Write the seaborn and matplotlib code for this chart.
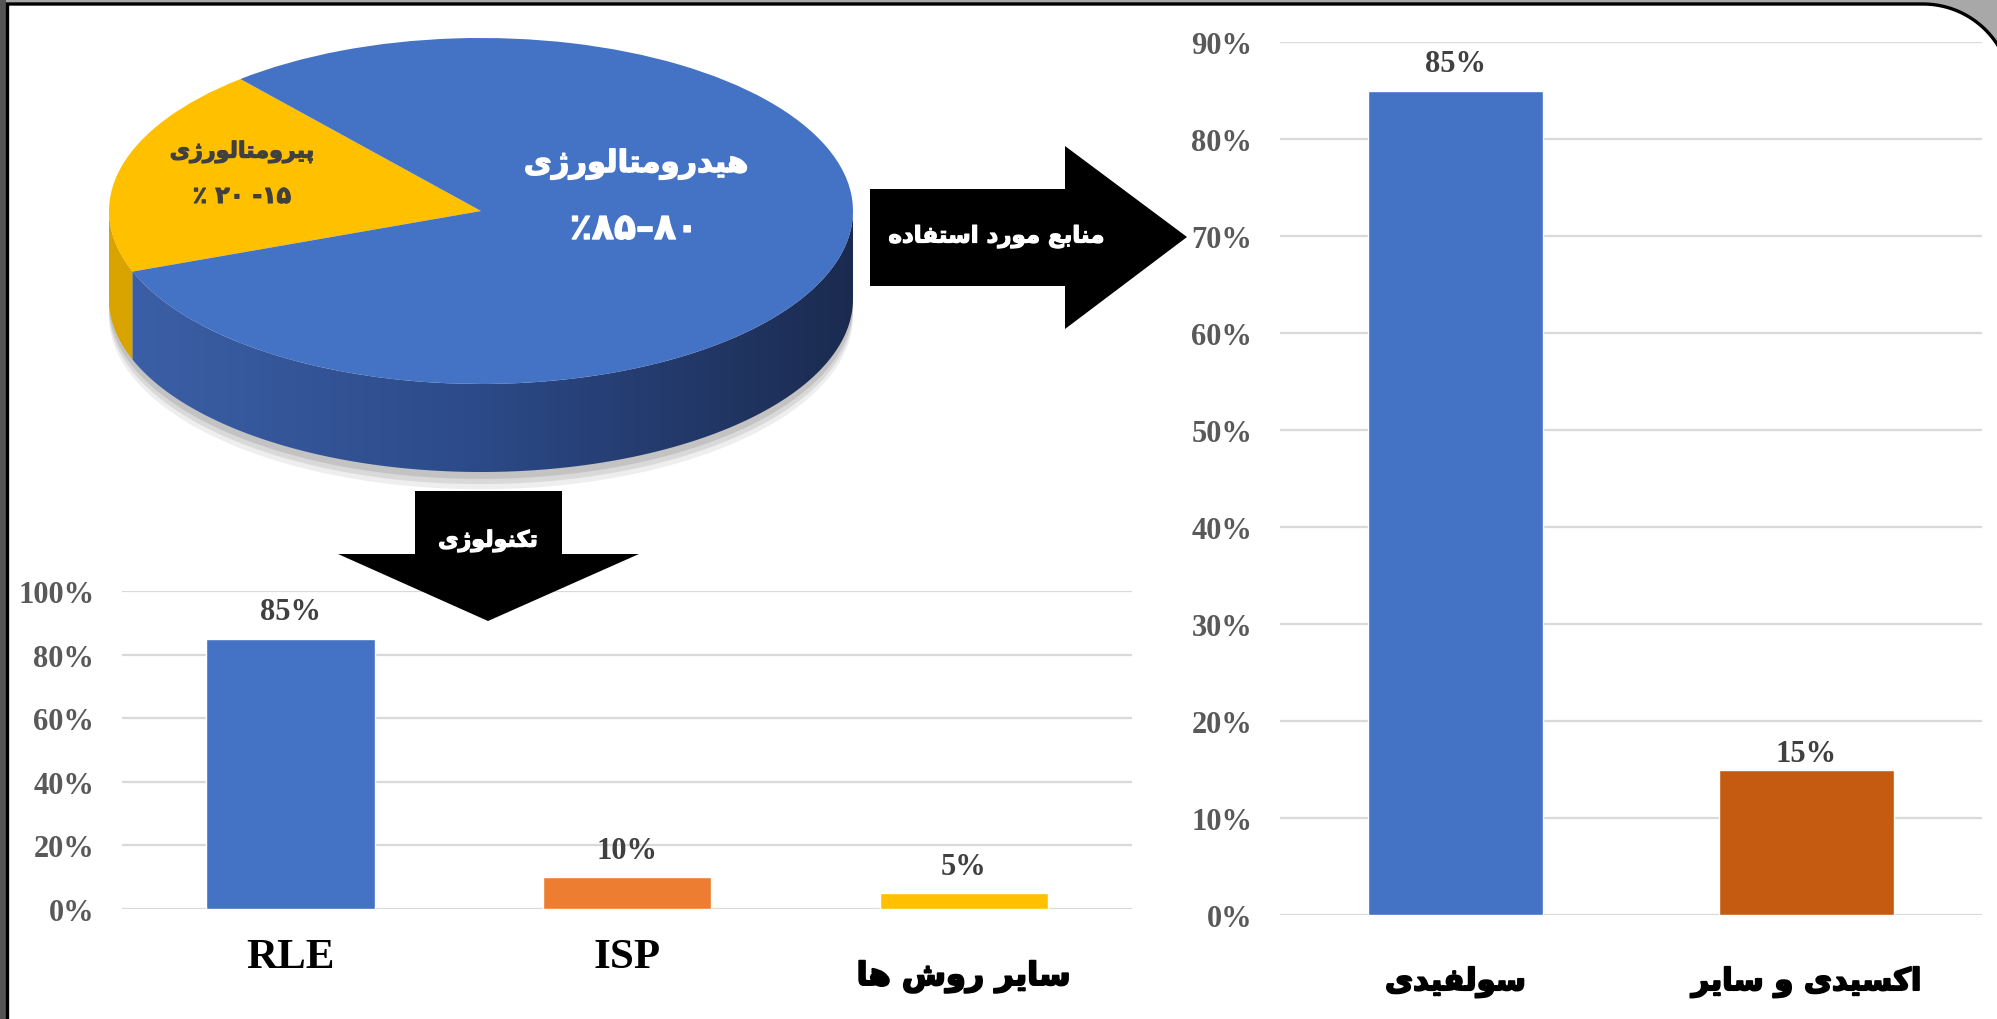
import re
import numpy as np
import pandas as pd
import seaborn as sns
import matplotlib.pyplot as plt
import matplotlib.patheffects as pe
from matplotlib.patches import Polygon, Rectangle
from matplotlib.colors import LinearSegmentedColormap
from matplotlib.ticker import PercentFormatter

# ---- data ----
pie_labels = ['پیرومتالورژی', 'هیدرومتالورژی']
pie_ranges = ['۱۵- ۲۰ ٪', '۸۰–۸۵٪']
pie_values = [19.5, 80.5]
pie_colors = ['#FFC000', '#4472C4']

tech_labels = ['RLE', 'ISP', 'سایر روش ها']
tech_values = [0.85, 0.10, 0.05]
tech_colors = ['#4472C4', '#ED7D31', '#FFC000']

source_labels = ['سولفیدی', 'اکسیدی و سایر']
source_values = [0.85, 0.15]
source_colors = ['#4472C4', '#C55A11']

arrow_right_text = 'منابع مورد استفاده'
arrow_down_text = 'تکنولوژی'

# ---- simple persian shaping (matplotlib has no text shaping) ----
FORMS = {
    'ا': ('\uFE8D', '\uFE8E', None, None),
    'ب': ('\uFE8F', '\uFE90', '\uFE91', '\uFE92'),
    'پ': ('\uFB56', '\uFB57', '\uFB58', '\uFB59'),
    'ت': ('\uFE95', '\uFE96', '\uFE97', '\uFE98'),
    'د': ('\uFEA9', '\uFEAA', None, None),
    'ر': ('\uFEAD', '\uFEAE', None, None),
    'ژ': ('\uFB8A', '\uFB8B', None, None),
    'س': ('\uFEB1', '\uFEB2', '\uFEB3', '\uFEB4'),
    'ش': ('\uFEB5', '\uFEB6', '\uFEB7', '\uFEB8'),
    'ع': ('\uFEC9', '\uFECA', '\uFECB', '\uFECC'),
    'ف': ('\uFED1', '\uFED2', '\uFED3', '\uFED4'),
    'ک': ('\uFB8E', '\uFB8F', '\uFB90', '\uFB91'),
    'ل': ('\uFEDD', '\uFEDE', '\uFEDF', '\uFEE0'),
    'م': ('\uFEE1', '\uFEE2', '\uFEE3', '\uFEE4'),
    'ن': ('\uFEE5', '\uFEE6', '\uFEE7', '\uFEE8'),
    'و': ('\uFEED', '\uFEEE', None, None),
    'ه': ('\uFEE9', '\uFEEA', '\uFEEB', '\uFEEC'),
    'ی': ('\uFBFC', '\uFBFD', '\uFBFE', '\uFBFF'),
}


def fa(text):
    """shape persian letters and put them in visual (left to right) order"""
    if not any(c in FORMS for c in text) and not re.search('[۰-۹٪]', text):
        return text
    out = []
    for i, c in enumerate(text):
        if c not in FORMS:
            out.append(c)
            continue
        prev = text[i - 1] if i > 0 else ''
        nxt = text[i + 1] if i + 1 < len(text) else ''
        join_prev = prev in FORMS and FORMS[prev][2] is not None
        join_next = FORMS[c][2] is not None and nxt in FORMS
        if join_prev and join_next:
            out.append(FORMS[c][3])
        elif join_prev:
            out.append(FORMS[c][1])
        elif join_next:
            out.append(FORMS[c][2])
        else:
            out.append(FORMS[c][0])
    tokens = re.findall('[0-9۰-۹]+|.', ''.join(out))
    return ''.join(tokens[::-1])


def heavy(color, lw=1.2):
    # thicker strokes, the original uses a very heavy persian face
    return [pe.withStroke(linewidth=lw, foreground=color)]


# ---- figure ----
W, H = 1997, 1020
sns.set_style('white')
plt.rcParams['font.family'] = ['Liberation Serif', 'DejaVu Sans']
fig = plt.figure(figsize=(W / 100, H / 100), dpi=100)
fig.patch.set_facecolor('#a8a8a8')


def fx(x):
    return x / W


def fy(y):
    return 1 - y / H


# frame with rounded top-right corner
r, cx, cy = 88.5, 1923, 93.5
phi = np.linspace(0, np.pi / 2, 40)
frame_pts = [(7.5, 1040), (7.5, 5)] + [(cx + r * np.sin(p), cy - r * np.cos(p)) for p in phi] + [(cx + r, 1040)]
frame_pts = [(fx(x), fy(y)) for x, y in frame_pts]
fig.patches.append(Rectangle((0, 0), fx(6), 1, transform=fig.transFigure, facecolor='#555555',
                             edgecolor='none', zorder=-3))
fig.patches.append(Polygon(frame_pts, closed=True, transform=fig.transFigure, facecolor='white',
                           edgecolor='black', linewidth=2.4, zorder=-2))

# ---- 3d-ish pie ----
ax_p = fig.add_axes([fx(109), fy(500), (853 - 109) / W, (500 - 30) / H])
depth = 88 / 173
start = 130.3
split = np.deg2rad(start + 360 * pie_values[0] / sum(pie_values))


def side_poly(t0, t1, d):
    t = np.linspace(t0, t1, 120)
    top = np.column_stack([np.cos(t), np.sin(t)])
    bot = np.column_stack([np.cos(t[::-1]), np.sin(t[::-1]) - d])
    return np.vstack([top, bot])


# soft shadow under the pie
for k, a in zip([0.10, 0.07, 0.04], [0.10, 0.14, 0.18]):
    ax_p.add_patch(Polygon(side_poly(np.pi, 2 * np.pi, depth + k), closed=True, facecolor='#606060',
                           edgecolor='none', alpha=a, zorder=0))

ax_p.add_patch(Polygon(side_poly(np.pi, split, depth), closed=True, facecolor='#D9A300',
                       edgecolor='none', zorder=1))
blue_side = Polygon(side_poly(split, 2 * np.pi, depth), closed=True, facecolor='none',
                    edgecolor='none', zorder=1)
ax_p.add_patch(blue_side)
side_cmap = LinearSegmentedColormap.from_list('side', ['#3C60A8', '#2C4A88', '#1B2B50'])
grad = ax_p.imshow(np.linspace(0, 1, 256)[None, :], cmap=side_cmap, aspect='auto',
                   extent=(-1, 1, -1 - depth, 0.2), zorder=1)
grad.set_clip_path(blue_side)

ax_p.pie(pie_values, colors=pie_colors, startangle=start, counterclock=True,
         wedgeprops=dict(linewidth=0, zorder=3))
ax_p.set_aspect('auto')
ax_p.set_xlim(-1, 1)
ax_p.set_ylim(1.052 - 470 / 173, 1.052)
ax_p.axis('off')

fig.text(fx(242), fy(153), fa(pie_labels[0]), color='#404040', fontsize=16, fontweight='bold',
         ha='center', va='center', family='DejaVu Sans', path_effects=heavy('#404040', 0.8))
fig.text(fx(242), fy(197), fa(pie_ranges[0]), color='#404040', fontsize=17, fontweight='bold',
         ha='center', va='center', family='DejaVu Sans', path_effects=heavy('#404040', 0.8))
fig.text(fx(636), fy(165), fa(pie_labels[1]), color='white', fontsize=22, fontweight='bold',
         ha='center', va='center', family='DejaVu Sans', path_effects=heavy('white', 1.0))
fig.text(fx(634), fy(230), fa(pie_ranges[1]), color='white', fontsize=26, fontweight='bold',
         ha='center', va='center', family='DejaVu Sans', path_effects=heavy('white', 1.0))

# ---- arrows ----
right_arrow = [(870, 190), (1065, 190), (1065, 147), (1187, 238), (1065, 330), (1065, 287), (870, 287)]
down_arrow = [(415, 492), (562, 492), (562, 555), (639, 555), (488, 622), (338, 555), (415, 555)]
for pts in (right_arrow, down_arrow):
    fig.patches.append(Polygon([(fx(x), fy(y)) for x, y in pts], closed=True, transform=fig.transFigure,
                               facecolor='black', edgecolor='none', zorder=5))
fig.text(fx(996), fy(238), fa(arrow_right_text), color='white', fontsize=16.5, fontweight='bold',
         ha='center', va='center', family='DejaVu Sans', zorder=6, path_effects=heavy('white', 0.9))
fig.text(fx(488), fy(542), fa(arrow_down_text), color='white', fontsize=16, fontweight='bold',
         ha='center', va='center', family='DejaVu Sans', zorder=6, path_effects=heavy('white', 0.9))


# ---- bar charts ----
def bar_panel(ax, labels, values, colors, ymax, step, pads, label_drop, label_sizes):
    df = pd.DataFrame({'cat': labels, 'val': values})
    sns.barplot(data=df, x='cat', y='val', hue='cat', palette=colors, legend=False,
                width=0.5, saturation=1, ax=ax, zorder=2)
    ax.set_ylim(0, ymax)
    ax.set_xlim(-0.5, len(labels) - 0.5)
    ax.set_yticks(np.arange(0, ymax + 1e-9, step))
    ax.yaxis.set_major_formatter(PercentFormatter(1.0, decimals=0))
    ax.yaxis.grid(True, color='#D9D9D9', linewidth=1.6)
    ax.set_axisbelow(True)
    sns.despine(ax=ax, left=True, bottom=True)
    ax.patch.set_alpha(0)
    ax.set_xlabel('')
    ax.set_ylabel('')
    ax.tick_params(axis='y', length=0, pad=20, labelsize=22, labelcolor='#595959')
    for lbl in ax.get_yticklabels():
        lbl.set_fontweight('bold')
    # category names written under the bars (persian ones sit lower)
    ax.set_xticks(range(len(labels)))
    ax.set_xticklabels([])
    ax.tick_params(axis='x', length=0)
    for i, (t, drop, size) in enumerate(zip(labels, label_drop, label_sizes)):
        shaped = fa(t)
        persian = shaped != t
        ax.annotate(shaped, (i, 0), xycoords=('data', 'axes fraction'), xytext=(0, -drop * 0.72),
                    textcoords='offset points', ha='center', va='center', fontsize=size,
                    fontweight='bold', color='black',
                    family='DejaVu Sans' if persian else 'Liberation Serif',
                    path_effects=heavy('black', 1.4) if persian else None)
    for p, v, pad in zip(ax.patches, values, pads):
        ax.annotate(f'{v:.0%}', (p.get_x() + p.get_width() / 2, p.get_height()),
                    xytext=(0, pad), textcoords='offset points', ha='center', va='bottom',
                    fontsize=22, fontweight='bold', color='#404040')


ax_l = fig.add_axes([fx(122), fy(910), (1132 - 122) / W, (910 - 592) / H])
bar_panel(ax_l, tech_labels, tech_values, tech_colors, 1.0, 0.2, [9, 9, 9],
          [48, 48, 68], [31, 31, 23])

ax_r = fig.add_axes([fx(1280), fy(916), (1982 - 1280) / W, (916 - 43) / H])
bar_panel(ax_r, source_labels, source_values, source_colors, 0.9, 0.1, [9, 1],
          [67, 67], [22, 22])

fig.savefig('out.png', dpi=100, facecolor=fig.get_facecolor())
